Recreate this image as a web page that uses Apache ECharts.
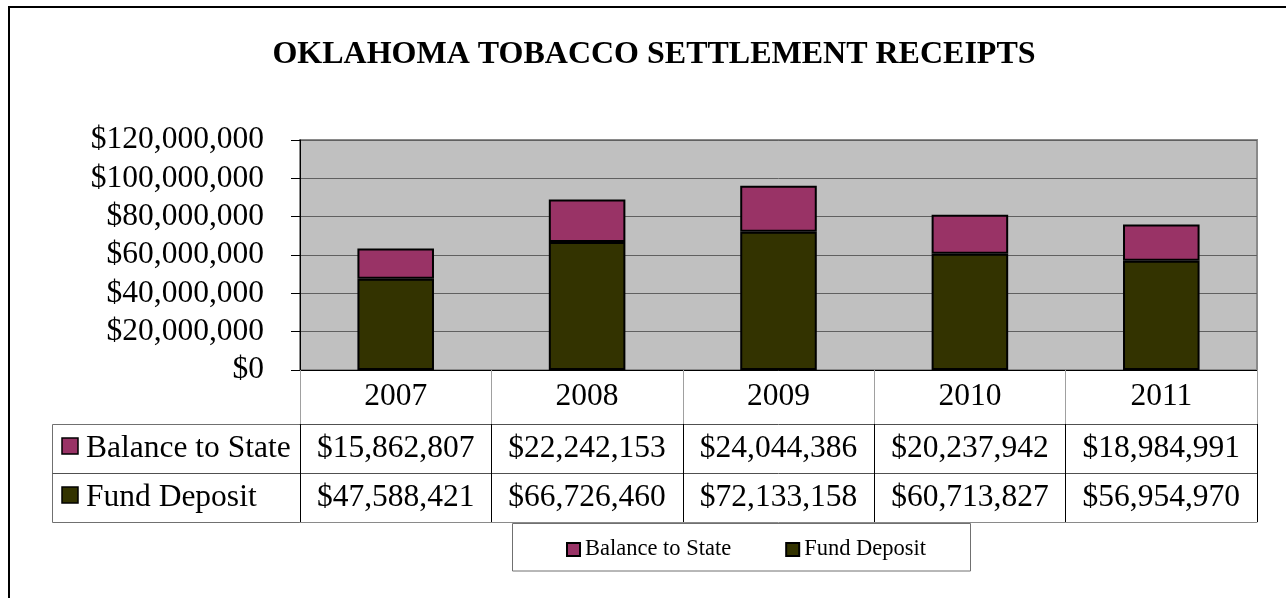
<!DOCTYPE html>
<html>
<head>
<meta charset="utf-8">
<script src="https://cdn.jsdelivr.net/npm/echarts@6/dist/echarts.min.js"></script>
<style>
  html, body { margin: 0; padding: 0; background: #fff; }
  #chart { width: 1286px; height: 598px; }
</style>
</head>
<body>
<div id="chart"></div>
<script>
// 数据
const years = ['2007', '2008', '2009', '2010', '2011']
const balanceToState = [15862807, 22242153, 24044386, 20237942, 18984991]
const fundDeposit = [47588421, 66726460, 72133158, 60713827, 56954970]
const yTicks = { min: 0, max: 120000000, interval: 20000000 }

const serif = "'Times New Roman', 'Liberation Serif', serif"
const magenta = '#993366'
const olive = '#333300'

function money (v) {
  return '$' + String(v).replace(/\B(?=(\d{3})+(?!\d))/g, ',')
}

// 表格行（x 轴）
function tableAxis (data, offset, tickColor, lineColor, margin, showLabel) {
  return {
    type: 'category',
    data: data,
    position: 'bottom',
    offset: offset,
    boundaryGap: true,
    axisLine: { show: true, lineStyle: { color: lineColor, width: 1 } },
    axisTick: {
      show: tickColor !== null,
      interval: 0,
      length: 49,
      lineStyle: { color: tickColor || '#000', width: 1 }
    },
    axisLabel: {
      show: showLabel,
      interval: 0,
      margin: margin,
      verticalAlign: 'middle',
      color: '#000',
      fontFamily: serif,
      fontSize: 31.5
    },
    splitLine: { show: false }
  }
}

const yearAxis = tableAxis(years, 0, '#a0a0a0', '#000', 27, true)
yearAxis.axisTick.length = 54

const chart = echarts.init(document.getElementById('chart'))
chart.setOption({
  animation: false,
  title: {
    text: 'OKLAHOMA TOBACCO SETTLEMENT RECEIPTS',
    left: 649,
    top: 34,
    textAlign: 'center',
    textStyle: { fontFamily: serif, fontSize: 32, fontWeight: 'bold', color: '#000' }
  },
  grid: {
    left: 300,
    right: 29,
    top: 140,
    bottom: 228,
    show: true,
    backgroundColor: '#c0c0c0',
    borderColor: '#8a8a8a',
    borderWidth: 2
  },
  legend: {
    data: ['Balance to State', 'Fund Deposit'],
    icon: 'rect',
    left: 566,
    top: 538,
    padding: 0,
    itemWidth: 13,
    itemHeight: 13,
    itemGap: 54,
    textStyle: { fontFamily: serif, fontSize: 22.5, color: '#000' }
  },
  xAxis: [
    yearAxis,
    tableAxis(balanceToState.map(money), 54, '#000', '#505050', 25, true),
    tableAxis(fundDeposit.map(money), 103, '#000', '#505050', 24.5, true),
    tableAxis(years, 152, null, '#8a8a8a', 0, false)
  ],
  yAxis: {
    type: 'value',
    min: yTicks.min,
    max: yTicks.max,
    interval: yTicks.interval,
    axisLine: { show: true, lineStyle: { color: '#000', width: 1 } },
    axisTick: { show: true, length: 9, lineStyle: { color: '#000' } },
    axisLabel: {
      margin: 36,
      color: '#000',
      fontFamily: serif,
      fontSize: 31.5,
      formatter: money
    },
    splitLine: { show: true, lineStyle: { color: '#606060', width: 1 } }
  },
  series: [
    {
      name: 'Fund Deposit',
      type: 'bar',
      stack: 'total',
      barWidth: '40%',
      data: fundDeposit,
      itemStyle: { color: olive, borderColor: '#000', borderWidth: 2 }
    },
    {
      name: 'Balance to State',
      type: 'bar',
      stack: 'total',
      barWidth: '40%',
      data: balanceToState,
      itemStyle: { color: magenta, borderColor: '#000', borderWidth: 2 }
    }
  ],
  graphic: [
    // 外框
    {
      type: 'rect',
      shape: { x: 9, y: 7, width: 1300, height: 700 },
      style: { fill: 'none', stroke: '#000', lineWidth: 2 }
    },
    // 表格左列
    {
      type: 'polyline',
      shape: { points: [[300, 424.5], [52.5, 424.5], [52.5, 522.5], [300, 522.5]] },
      style: { fill: 'none', stroke: '#707070', lineWidth: 1 }
    },
    {
      type: 'line',
      shape: { x1: 52.5, y1: 473.5, x2: 300, y2: 473.5 },
      style: { stroke: '#505050', lineWidth: 1 }
    },
    {
      type: 'rect',
      shape: { x: 62, y: 438, width: 16, height: 16 },
      style: { fill: magenta, stroke: '#000', lineWidth: 1.5 }
    },
    {
      type: 'text',
      style: { text: 'Balance to State', x: 86, y: 449, verticalAlign: 'middle', font: '31.5px ' + serif, fill: '#000' }
    },
    {
      type: 'rect',
      shape: { x: 62, y: 487, width: 16, height: 16 },
      style: { fill: olive, stroke: '#000', lineWidth: 1.5 }
    },
    {
      type: 'text',
      style: { text: 'Fund Deposit', x: 86, y: 497.5, verticalAlign: 'middle', font: '31.5px ' + serif, fill: '#000' }
    },
    // 图例框
    {
      type: 'rect',
      shape: { x: 512.5, y: 523.5, width: 458, height: 47.5 },
      style: { fill: 'none', stroke: '#707070', lineWidth: 1 }
    }
  ]
})
</script>
</body>
</html>
